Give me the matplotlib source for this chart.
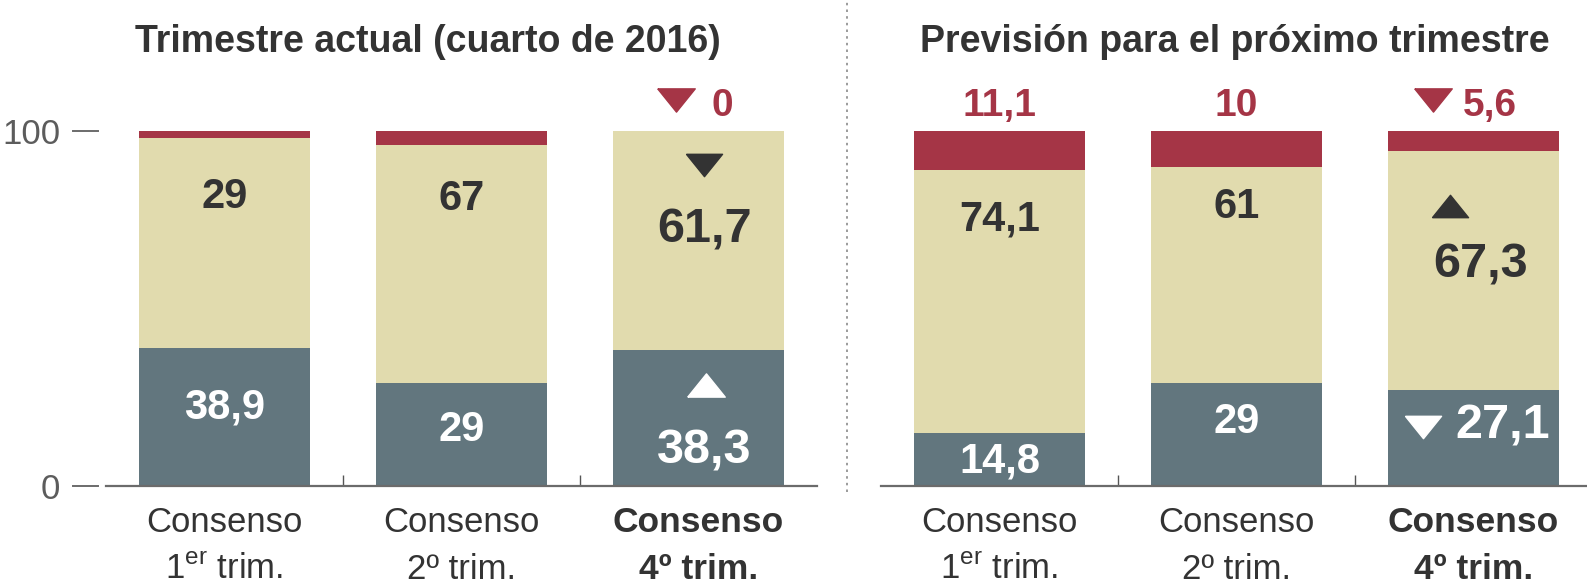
import matplotlib
matplotlib.use("Agg")
import matplotlib.pyplot as plt
from matplotlib.lines import Line2D
from matplotlib.path import Path

FONT = "Liberation Sans"
plt.rcParams["font.family"] = [FONT, "DejaVu Sans"]
plt.rcParams["mathtext.fontset"] = "custom"
plt.rcParams["mathtext.rm"] = FONT
plt.rcParams["mathtext.bf"] = FONT + ":bold"

# colours
SLATE = "#62767e"
BEIGE = "#e1dbae"
RED = "#a53546"
DARK = "#333333"

# data
cat_line1 = ["Consenso", "Consenso", "Consenso"]
cat_line2 = [r"1$^{\rm er}$ trim.", "2º trim.", "4º trim."]

left_title = "Trimestre actual (cuarto de 2016)"
left_bottom = [38.9, 29, 38.3]
left_mid = [59.1, 67, 61.7]
left_top = [2.0, 4.0, 0.0]
left_bottom_lbl = ["38,9", "29", "38,3"]
left_mid_lbl = ["29", "67", "61,7"]
left_top_lbl = ["", "", "0"]

right_title = "Previsión para el próximo trimestre"
right_bottom = [14.8, 29, 27.1]
right_mid = [74.1, 61, 67.3]
right_top = [11.1, 10, 5.6]
right_bottom_lbl = ["14,8", "29", "27,1"]
right_mid_lbl = ["74,1", "61", "67,3"]
right_top_lbl = ["11,1", "10", "5,6"]

# label baselines (layout)
left_bottom_y = [18.9, 12.7, 6.2]
left_mid_y = [78.3, 77.7, 68.5]
right_bottom_y = [3.9, 14.9, 13.5]
right_mid_y = [72.1, 75.5, 58.6]
top_y = 104.2

SMALL = 30   # value labels
BIG = 35     # current quarter labels
CAT = 25     # category labels
TITLE = 27

x = [0, 1, 2]
W, H = 1587, 586
fig = plt.figure(figsize=(W / 100, H / 100), dpi=100)

down = Path([(-1, 0.62), (1, 0.62), (0, -0.62), (-1, 0.62)])
up = Path([(-1, -0.62), (1, -0.62), (0, 0.62), (-1, -0.62)])


def make_ax(left_px, right_px):
    ax = fig.add_axes([left_px / W, 100 / H, (right_px - left_px) / W, 355 / H])
    ax.set_ylim(0, 100)
    for s in ["left", "right", "top"]:
        ax.spines[s].set_visible(False)
    ax.spines["bottom"].set_color("#6b6b6b")
    ax.spines["bottom"].set_linewidth(1.6)
    ax.set_xticks(x)
    ax.set_xticklabels([])
    ax.tick_params(axis="x", which="major", length=0)
    ax.set_xticks([0.5, 1.5], minor=True)
    ax.tick_params(axis="x", which="minor", direction="in", length=8,
                   width=1.0, color="#555555")
    ax.set_facecolor("none")
    return ax


def bars(ax, bottom, mid, top):
    ax.bar(x, bottom, width=0.72, color=SLATE, zorder=2)
    ax.bar(x, mid, width=0.72, bottom=bottom, color=BEIGE, zorder=2)
    top_base = [b + m for b, m in zip(bottom, mid)]
    ax.bar(x, top, width=0.72, bottom=top_base, color=RED, zorder=2)


def cats(ax):
    tr = ax.get_xaxis_transform()
    for i in x:
        w = "bold" if i == 2 else "normal"
        sz = CAT + 0.5 if i == 2 else CAT
        ax.text(i, -46 / 355, cat_line1[i], transform=tr, ha="center",
                va="baseline", fontsize=sz, color=DARK, fontweight=w)
        ax.text(i, -93 / 355, cat_line2[i], transform=tr, ha="center",
                va="baseline", fontsize=sz, color=DARK, fontweight=w)


# ---------------- left panel
ax1 = make_ax(106, 817)
ax1.set_xlim(-0.5, 2.5)
bars(ax1, left_bottom, left_mid, left_top)
cats(ax1)
ax1.set_yticks([0, 100])
ax1.set_yticklabels(["0", "100"])
ax1.tick_params(axis="y", length=0, pad=33, labelsize=25, labelcolor="#5c5c5c")
ytr = ax1.get_yaxis_transform()
for v in [0, 100]:
    ax1.plot([-33 / 711, -8 / 711], [v, v], transform=ytr, color="#6b6b6b",
             lw=1.4, clip_on=False)

for i in x:
    sz = BIG if i == 2 else SMALL
    ax1.text(i + (0.025 if i == 2 else 0), left_bottom_y[i], left_bottom_lbl[i],
             ha="center", va="baseline", fontsize=sz, fontweight="bold",
             color="white", zorder=3)
    ax1.text(i + (0.025 if i == 2 else 0), left_mid_y[i], left_mid_lbl[i],
             ha="center", va="baseline", fontsize=sz, fontweight="bold",
             color=DARK, zorder=3)
# markers on current quarter
ax1.text(2 + 0.053, top_y, left_top_lbl[2], ha="left", va="baseline",
         fontsize=28, fontweight="bold", color=RED, clip_on=False)
ax1.plot(2 - 0.093, 108.6, marker=down, ms=27, color=RED, clip_on=False, ls="")
ax1.plot(2 + 0.025, 90.4, marker=down, ms=26, color=DARK, ls="", zorder=3)
ax1.plot(2 + 0.03, 28.5, marker=up, ms=27, color="white", ls="", zorder=3)

# ---------------- right panel
ax2 = make_ax(881, 1587)
ax2.set_xlim(-0.5, 2.479)
bars(ax2, right_bottom, right_mid, right_top)
cats(ax2)
ax2.set_yticks([])

for i in x[:2]:
    ax2.text(i, top_y, right_top_lbl[i], ha="center", va="baseline",
             fontsize=28, fontweight="bold", color=RED, clip_on=False)
    ax2.text(i, right_bottom_y[i], right_bottom_lbl[i], ha="center",
             va="baseline", fontsize=SMALL, fontweight="bold", color="white",
             zorder=3)
    ax2.text(i, right_mid_y[i], right_mid_lbl[i], ha="center", va="baseline",
             fontsize=SMALL, fontweight="bold", color=DARK, zorder=3)
ax2.text(2 - 0.046, top_y, right_top_lbl[2], ha="left", va="baseline",
         fontsize=28, fontweight="bold", color=RED, clip_on=False)
ax2.plot(2 - 0.17, 108.6, marker=down, ms=27, color=RED, clip_on=False, ls="")
ax2.text(2 + 0.03, right_mid_y[2], right_mid_lbl[2], ha="center", va="baseline",
         fontsize=BIG, fontweight="bold", color=DARK, zorder=3)
ax2.plot(2 - 0.1, 78.9, marker=up, ms=26, color=DARK, ls="", zorder=3)
ax2.text(2 - 0.075, right_bottom_y[2], right_bottom_lbl[2], ha="left",
         va="baseline", fontsize=BIG, fontweight="bold", color="white", zorder=3)
ax2.plot(2 - 0.215, 16.6, marker=down, ms=26, color="white", ls="", zorder=3)

# titles
fig.text(428 / W, 1 - 52 / H, left_title, ha="center", va="baseline",
         fontsize=TITLE, fontweight="bold", color=DARK)
fig.text(1235 / W, 1 - 52 / H, right_title, ha="center", va="baseline",
         fontsize=TITLE, fontweight="bold", color=DARK)

# dotted separator
fig.add_artist(Line2D([847 / W, 847 / W], [1 - 492 / H, 1.0], color="#8a8a8a",
                      lw=1.2, ls=(0, (1.5, 2.5))))

fig.savefig("out.png", dpi=100)
